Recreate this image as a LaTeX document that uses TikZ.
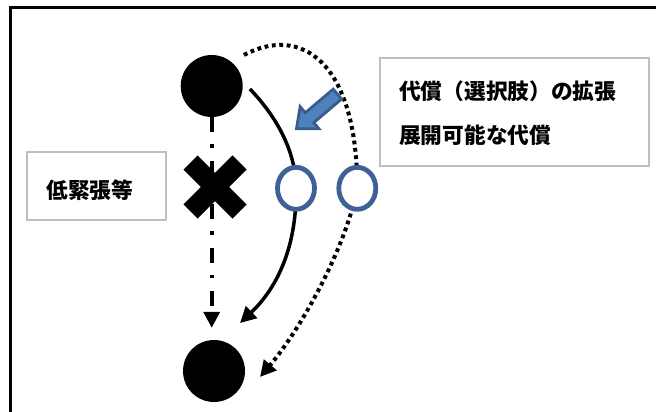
\documentclass[tikz,border=0pt]{standalone}
\usepackage{fontspec}
\newfontfamily\cjk{Noto Sans CJK JP}
\usetikzlibrary{arrows.meta,shapes.geometric,backgrounds}
\definecolor{ringblue}{RGB}{62,98,150}
\definecolor{arrowfill}{RGB}{79,129,189}
\definecolor{arrowedge}{RGB}{56,93,138}
\definecolor{boxgrey}{RGB}{191,191,191}
\begin{document}
\begin{tikzpicture}[x=1pt,y=-1pt,
  dotnode/.style={circle,fill=black,inner sep=0pt,minimum size=62pt},
  ring/.style={ellipse,draw=ringblue,line width=4.8pt,fill=white,inner sep=0pt,minimum width=37pt,minimum height=42pt},
  labelbox/.style={draw=boxgrey,line width=1.8pt,fill=white,inner sep=0pt},
  jtext/.style={font=\cjk\bfseries\fontsize{21.7pt}{25pt}\selectfont,inner sep=0pt},
  mytip/.style={-{Triangle[length=16pt,width=16pt]}},
  dashdotline/.style={line width=3.6pt,dash pattern=on 15pt off 12pt on 3.5pt off 13pt},
  solidline/.style={line width=3.5pt},
  dottedline/.style={line width=4pt,dash pattern=on 3.8pt off 3.6pt},
  bluearrow/.style={fill=arrowfill,draw=arrowedge,line width=2.8pt,line join=miter}
]
\useasboundingbox (0,0) rectangle (656,412);
% frame
\draw[line width=2.5pt] (10.3,412) -- (10.3,7.3) -- (656,7.3);

% boxes
\node[labelbox,anchor=north west,minimum width=269pt,minimum height=108pt] (rbox) at (379,57) {};
\node[jtext,anchor=west] (t1) at (399,91.7) {代償（選択肢）の拡張};
\node[jtext,anchor=west] (t2) at (399,135) {展開可能な代償};
\node[labelbox,minimum width=139pt,minimum height=68pt] (lbox) at (96.5,186) {};
\node[jtext] (t3) at (90,190) {低緊張等};

% main nodes
\node[dotnode] (A) at (211.7,86) {};
\node[dotnode] (B) at (214,371) {};
\node[ring] (c1) at (296,188.3) {};
\node[ring] (c2) at (357.3,188.3) {};
\node[minimum size=64pt,inner sep=0pt] (X) at (215,187) {};
\draw[line width=20pt] ([shift={(-24.5,-24.5)}]X.center) -- ([shift={(24.5,24.5)}]X.center);
\draw[line width=20pt] ([shift={(-24.5,24.5)}]X.center) -- ([shift={(24.5,-24.5)}]X.center);

% connectors behind rings
\begin{scope}[on background layer]
\draw[dashdotline,mytip,shorten >=12pt] (A.south) -- (A.south |- B.north);
\draw[solidline,mytip] ([shift={(7,3)}]A.east) .. controls (275,115) and (296,150) .. (c1.center)
   .. controls (297,250) and (275,290) .. ([shift={(26,-48)}]B.center);
\draw[dottedline,mytip] ([shift={(32.3,-31)}]A.center) .. controls (300,25) and (357,60) .. (c2.center)
   .. controls (345,250) and (300,330) .. ([shift={(46,6)}]B.center);
\end{scope}

% block arrow
\draw[bluearrow] (333.2,89.15) -- (341.6,99.05) -- (313.7,122.65) -- (318.9,128.75) -- (296.5,128.7) -- (300.1,106.65) -- (305.3,112.75) -- cycle;
\end{tikzpicture}
\end{document}
